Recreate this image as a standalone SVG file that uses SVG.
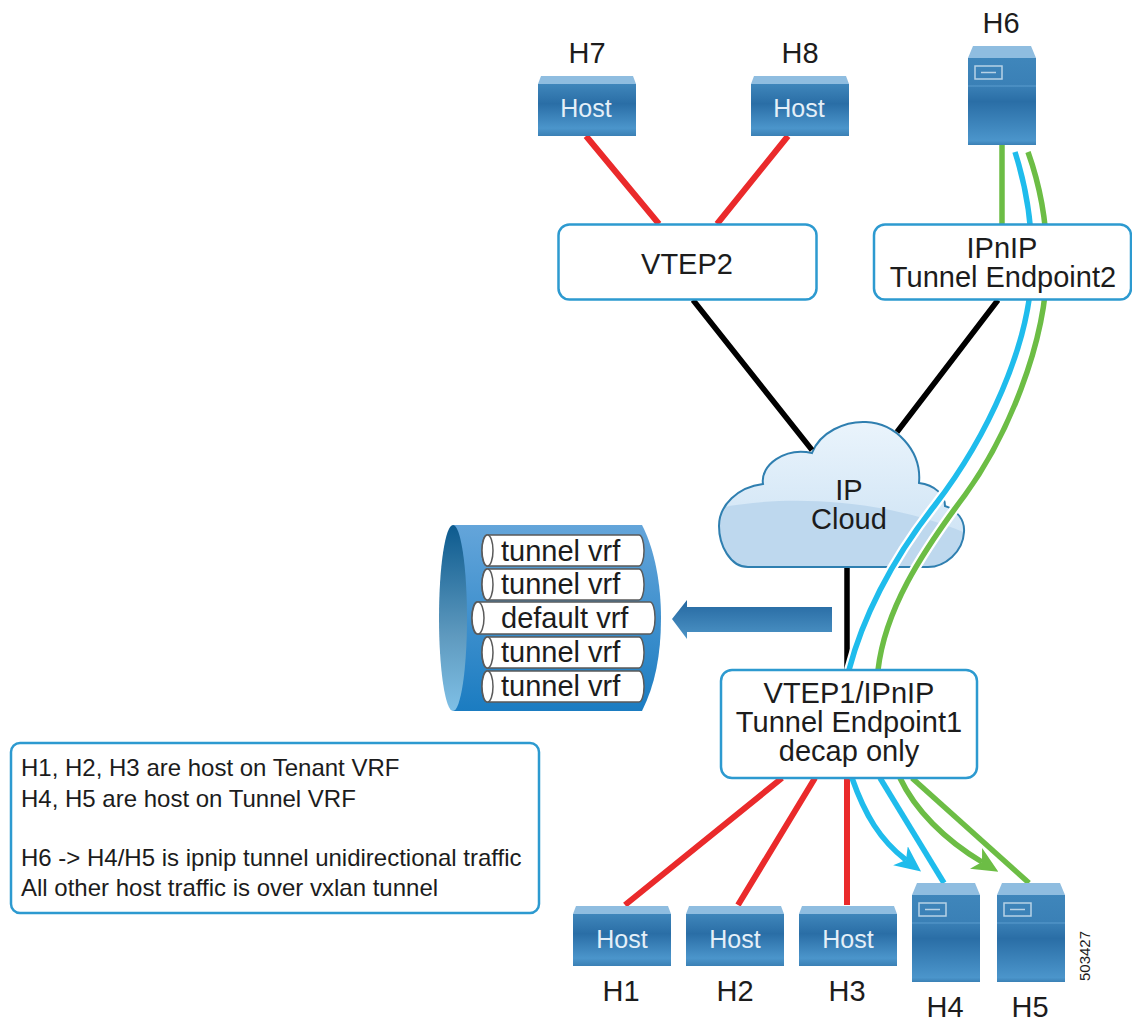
<svg xmlns="http://www.w3.org/2000/svg" xmlns:xlink="http://www.w3.org/1999/xlink" width="1132" height="1021" viewBox="0 0 1132 1021">
<style>
text{font-family:"Liberation Sans",Arial,sans-serif;fill:#1c1c1c}
.l{font-size:29px;text-anchor:middle}
.v{font-size:29px}
.n{font-size:24px}
.h{font-size:25px;text-anchor:middle;fill:#e4eff8}
.box{fill:#fff;stroke:#2d9ad0;stroke-width:2.500}
.top{fill:#8fbde0}
.c{fill:none}
.red{stroke:#ea2a2b;stroke-width:6}
.blk{stroke:#000;stroke-width:5.500}
.blu{stroke:#1fbcec;stroke-width:5.500}
.grn{stroke:#6cbd45;stroke-width:5.500}
.halo{stroke:#fff;stroke-width:10}
.tube{fill:#fff;stroke:#5a5a5a;stroke-width:1.500}
</style>
<defs>
<linearGradient id="g" x1="0" y1="0" x2="0" y2="1"><stop offset="0" stop-color="#3f86bb"/><stop offset=".38" stop-color="#2a6ea6"/><stop offset=".85" stop-color="#4b95cb"/><stop offset="1" stop-color="#3a80b5"/></linearGradient>
<linearGradient id="gs" x1="0" y1="0" x2="0" y2="1"><stop offset="0" stop-color="#3f86bb"/><stop offset=".32" stop-color="#3a80b6"/><stop offset=".5" stop-color="#2a6ea6"/><stop offset=".95" stop-color="#4b95cb"/><stop offset="1" stop-color="#3a80b5"/></linearGradient>
<linearGradient id="cl" x1="0" y1="0" x2="0" y2="1"><stop offset="0" stop-color="#eaf4fc"/><stop offset="1" stop-color="#c9e0f3"/></linearGradient>
<linearGradient id="cy" x1="0" y1="0" x2="0" y2="1"><stop offset="0" stop-color="#64a5da"/><stop offset="1" stop-color="#1b7cc1"/></linearGradient>
<linearGradient id="ce" x1="0" y1="0" x2="0" y2="1"><stop offset="0" stop-color="#0c5a8e"/><stop offset=".6" stop-color="#5f9abf"/><stop offset="1" stop-color="#7fc0e6"/></linearGradient>
<linearGradient id="ar" x1="0" y1="0" x2="0" y2="1"><stop offset="0" stop-color="#2467a0"/><stop offset="1" stop-color="#4d94c6"/></linearGradient>
<clipPath id="cc"><path id="cp" d="M748 567C730 567 719 545 719 526C719 505 738 487 763 484C760 465 785 447 812 453C820 432 845 421 866 422C895 423 922 450 919 483C935 485 945 495 945 506C957 510 965 520 964 532C963 552 945 567 928 567Z"/></clipPath>
<marker id="ab" markerUnits="userSpaceOnUse" markerWidth="26" markerHeight="24" viewBox="0 0 26 24" refX="7" refY="12" orient="auto"><path d="M26 12L0 0L7 12L0 24Z" fill="#1fbcec"/></marker>
<marker id="ag" markerUnits="userSpaceOnUse" markerWidth="26" markerHeight="24" viewBox="0 0 26 24" refX="7" refY="12" orient="auto"><path d="M26 12L0 0L7 12L0 24Z" fill="#6cbd45"/></marker>
<g id="hostShape"><path class="top" d="M0 8L3 0H95L98 8Z"/><rect y="8" width="98" height="52" fill="url(#g)"/></g>
<g id="serverShape"><path class="top" d="M0 12L5 0H63L68 12Z"/><rect y="12" width="68" height="87" fill="url(#gs)"/><path d="M0 40H68" stroke="#5b9cce" stroke-width="1"/><rect x="7" y="20" width="27" height="13" fill="none" stroke="#b7d2e6" stroke-width="1.500"/><path d="M13 26.500H28" stroke="#b7d2e6" stroke-width="1.500"/></g>
</defs>
<rect width="1132" height="1021" fill="#fff"/>
<g id="cloud">
<use xlink:href="#cp" href="#cp" fill="url(#cl)"/>
<path clip-path="url(#cc)" d="M710 510C770 495 880 495 970 535V575H710Z" fill="#bed8ee"/>
<use xlink:href="#cp" href="#cp" fill="none" stroke="#2f7fb0" stroke-width="2"/>
<text class="l" x="849" y="500">IP</text>
<text class="l" x="849" y="529">Cloud</text>
</g>
<g id="connectors">
<path class="c red" d="M586 136L659 224M788 136L717 224"/>
<path class="c red" d="M782 778L625 905M815 778L738 905M847 778V905"/>
<path class="c blk" d="M693 300L812 450M998 300L897 432M847 568V670"/>
<path class="c grn" d="M1002 145V224"/>
<path class="c halo" d="M1032 262C1032 345 985 440 935 505C890 562 862 620 849 670"/>
<path class="c halo" d="M1047 262C1047 345 1005 440 965 495C920 555 885 610 878 670"/>
<path class="c blu" d="M1015 152C1024 180 1032 215 1032 262C1032 345 985 440 935 505C890 562 862 620 849 670"/>
<path class="c grn" d="M1028 152C1038 180 1047 215 1047 262C1047 345 1005 440 965 495C920 555 885 610 878 670"/>
<path class="c blu" d="M880 778L944 883"/>
<path class="c grn" d="M912 778L1029 883"/>
<path class="c blu" marker-end="url(#ab)" d="M852 778C865 815 880 840 906 860"/>
<path class="c grn" marker-end="url(#ag)" d="M900 778C915 810 945 840 982 862"/>
</g>
<g id="H7"><use xlink:href="#hostShape" href="#hostShape" x="538" y="76"/><text class="h" x="586" y="117">Host</text><text class="l" x="587" y="63">H7</text></g>
<g id="H8"><use xlink:href="#hostShape" href="#hostShape" x="751" y="76"/><text class="h" x="799" y="117">Host</text><text class="l" x="800" y="63">H8</text></g>
<g id="H6"><use xlink:href="#serverShape" href="#serverShape" x="968" y="46"/><text class="l" x="1001" y="33">H6</text></g>
<g id="VTEP2"><rect class="box" x="558.500" y="224.500" width="258" height="75" rx="11"/><text class="l" x="687" y="274">VTEP2</text></g>
<g id="IPnIP"><rect class="box" x="874" y="224.500" width="257" height="75" rx="11"/><text class="l" x="1002" y="258">IPnIP</text><text class="l" x="1003" y="287">Tunnel Endpoint2</text></g>
<g id="VTEP1"><rect class="box" x="721" y="670" width="256" height="108" rx="11"/><text class="l" x="849" y="703">VTEP1/IPnIP</text><text class="l" x="849" y="732">Tunnel Endpoint1</text><text class="l" x="849" y="761">decap only</text></g>
<g id="H1"><use xlink:href="#hostShape" href="#hostShape" x="573" y="906"/><text class="h" x="622" y="948">Host</text><text class="l" x="621" y="1001">H1</text></g>
<g id="H2"><use xlink:href="#hostShape" href="#hostShape" x="686" y="906"/><text class="h" x="735" y="948">Host</text><text class="l" x="735" y="1001">H2</text></g>
<g id="H3"><use xlink:href="#hostShape" href="#hostShape" x="799" y="906"/><text class="h" x="848" y="948">Host</text><text class="l" x="847" y="1001">H3</text></g>
<g id="H4"><use xlink:href="#serverShape" href="#serverShape" x="912" y="883"/><text class="l" x="945" y="1017">H4</text></g>
<g id="H5"><use xlink:href="#serverShape" href="#serverShape" x="997" y="883"/><text class="l" x="1030" y="1017">H5</text></g>
<text id="figure-number" transform="translate(1090 981) rotate(-90)" font-size="15">503427</text>
<g id="vrf-table">
<path d="M453 525H642C655 550 661 585 661 618C661 655 655 685 642 711H453Z" fill="url(#cy)"/>
<ellipse cx="453" cy="618" rx="14" ry="93" fill="url(#ce)"/>
<rect class="tube" x="482" y="535" width="162" height="31" rx="5" ry="15"/><ellipse class="tube" cx="487.500" cy="550.500" rx="5.500" ry="15.500"/>
<rect class="tube" x="482" y="569" width="162" height="31" rx="5" ry="15"/><ellipse class="tube" cx="487.500" cy="584.500" rx="5.500" ry="15.500"/>
<rect class="tube" x="472" y="602" width="183" height="32" rx="5" ry="15"/><ellipse class="tube" cx="478" cy="618" rx="6" ry="16"/>
<rect class="tube" x="482" y="637" width="162" height="31" rx="5" ry="15"/><ellipse class="tube" cx="487.500" cy="652.500" rx="5.500" ry="15.500"/>
<rect class="tube" x="482" y="671" width="162" height="31" rx="5" ry="15"/><ellipse class="tube" cx="487.500" cy="686.500" rx="5.500" ry="15.500"/>
<text class="v" x="501" y="561">tunnel vrf</text>
<text class="v" x="501" y="594">tunnel vrf</text>
<text class="v" x="501" y="628">default vrf</text>
<text class="v" x="501" y="662">tunnel vrf</text>
<text class="v" x="501" y="696">tunnel vrf</text>
</g>
<path id="flow-arrow" d="M832 607V632H687V639L672 619L687 600V607Z" fill="url(#ar)"/>
<g id="note"><rect class="box" x="11" y="743" width="528" height="170" rx="9"/>
<text class="n" x="21" y="776">H1, H2, H3 are host on Tenant VRF</text>
<text class="n" x="21" y="807">H4, H5 are host on Tunnel VRF</text>
<text class="n" x="21" y="866">H6 -&gt; H4/H5 is ipnip tunnel unidirectional traffic</text>
<text class="n" x="21" y="896">All other host traffic is over vxlan tunnel</text>
</g>
</svg>
